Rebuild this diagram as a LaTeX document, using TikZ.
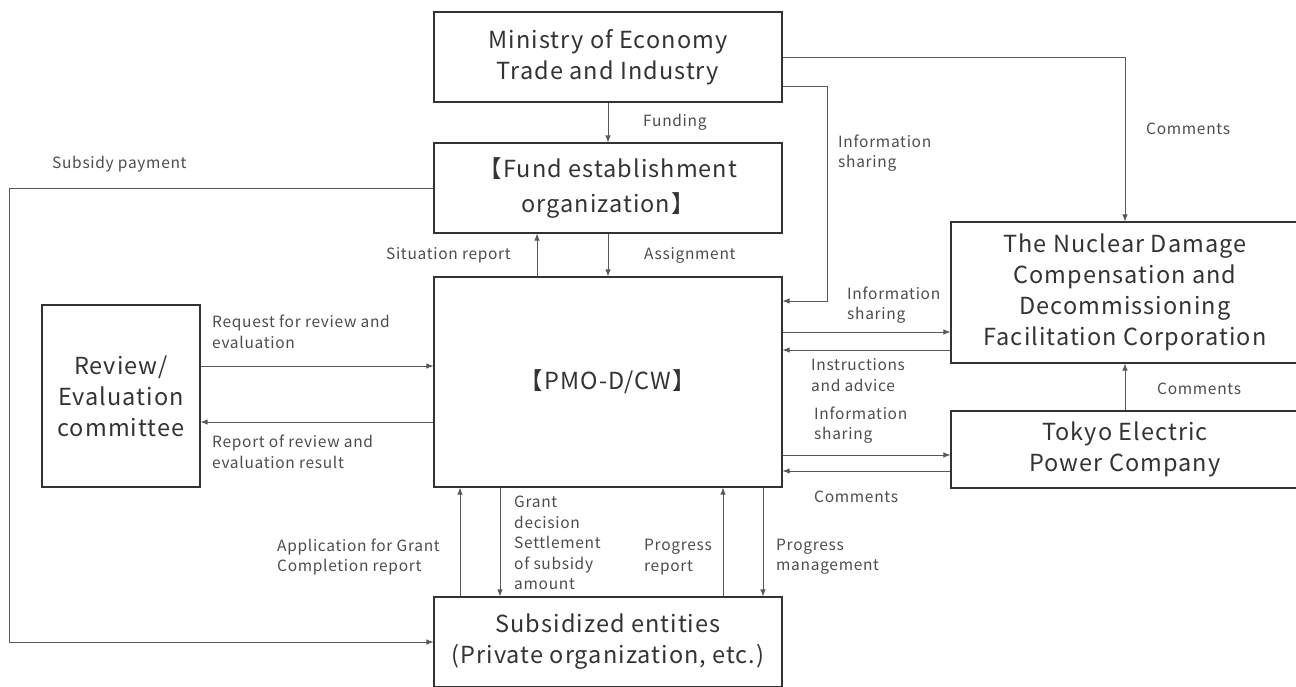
\documentclass[tikz,border=0pt]{standalone}
\usepackage{fontspec}
\setmainfont[LetterSpace=4.5]{Noto Sans CJK JP}
\usetikzlibrary{arrows.meta}

\begin{document}
\begin{tikzpicture}[x=1pt,y=-1pt,
  box/.style={draw=black!80,line width=1.2pt,minimum width=348pt,inner sep=0pt,align=center,text=black!80,font=\fontsize{23.5}{31}\selectfont},
  lbl/.style={inner sep=0pt,align=left,text=black!70,font=\fontsize{15.5}{20.5}\selectfont},
  arr/.style={draw=black!65,line width=0.8pt,-{Latex[length=7pt,width=5.5pt]}}]
\useasboundingbox (0,0) rectangle (1296,687);

\node[box,minimum height=90pt] (meti) at (608,57) {Ministry of Economy\\Trade and Industry};
\node[box,minimum height=90pt] (fund) at (608,188) {【Fund establishment\\[4pt]organization】};
\node[box,minimum height=210pt] (pmo) at (608,382) {【PMO-D/CW】};
\node[box,minimum height=90pt] (sub) at (608,642) {Subsidized entities\\(Private organization, etc.)};
\node[box,minimum width=158pt,minimum height=182pt] (rev) at (121,396) {Review/\\Evaluation\\committee};
\node[box,minimum height=141pt] (ndf) at (1125,292.5) {The Nuclear Damage\\Compensation and\\Decommissioning\\Facilitation Corporation};
\node[box,minimum height=77pt] (tepco) at (1125,449.5) {Tokyo Electric\\Power Company};

\draw[arr] (meti) -- (fund);
\draw[arr] (fund) -- (pmo);
\draw[arr] ([xshift=-71pt]pmo.north) -- ([xshift=-71pt]fund.south);
\draw[arr] (meti.east) -| (ndf.north);
\draw[arr] ([yshift=-29pt]meti.east) -- ++(45,0) |- ([yshift=81pt]pmo.east);
\draw[arr] ([yshift=50pt]pmo.east) -- ([yshift=-39.5pt]ndf.west);
\draw[arr] ([yshift=-57.5pt]ndf.west) -- ([yshift=32pt]pmo.east);
\draw[arr] ([yshift=-73pt]pmo.east) -- ([yshift=-5.5pt]tepco.west);
\draw[arr] ([yshift=-21.5pt]tepco.west) -- ([yshift=-89pt]pmo.east);
\draw[arr] (tepco) -- (ndf);
\draw[arr] ([yshift=30pt]rev.east) -- ([yshift=16pt]pmo.west);
\draw[arr] ([yshift=-40pt]pmo.west) -- ([yshift=-26pt]rev.east);
\coordinate (pay) at (9,188);
\draw[arr] (fund.west) -- (pay) |- (sub.west);
\draw[arr] ([xshift=-148pt]sub.north) -- ([xshift=-148pt]pmo.south);
\draw[arr] ([xshift=-108pt]pmo.south) -- ([xshift=-108pt]sub.north);
\draw[arr] ([xshift=115pt]sub.north) -- ([xshift=115pt]pmo.south);
\draw[arr] ([xshift=155pt]pmo.south) -- ([xshift=155pt]sub.north);

\node[lbl,anchor=west] (l-fund) at (643,122) {Funding};
\node[lbl,anchor=east] (l-sit) at (511,255) {Situation report};
\node[lbl,anchor=west] (l-assign) at (644,255) {Assignment};
\node[lbl,anchor=west] (l-info1) at (838,153) {Information\\sharing};
\node[lbl,anchor=west] (l-com1) at (1146,129) {Comments};
\node[lbl,anchor=west] (l-info2) at (847,305) {Information\\sharing};
\node[lbl,anchor=west] (l-instr) at (811,375) {Instructions\\and advice};
\node[lbl,anchor=west] (l-com2) at (1157,389) {Comments};
\node[lbl,anchor=west] (l-info3) at (814,425) {Information\\sharing};
\node[lbl,anchor=west] (l-com3) at (814,497) {Comments};
\node[lbl,anchor=west] (l-pay) at (52,164) {Subsidy payment};
\node[lbl,anchor=west] (l-req) at (212,332) {Request for review and\\evaluation};
\node[lbl,anchor=west] (l-rep) at (212,452) {Report of review and\\evaluation result};
\node[lbl,anchor=west] (l-appl) at (277,557) {Application for Grant\\Completion report};
\node[lbl,anchor=west] (l-grant) at (514,543) {Grant\\decision\\Settlement\\of subsidy\\amount};
\node[lbl,anchor=west] (l-prog) at (644,557) {Progress\\report};
\node[lbl,anchor=west] (l-mgmt) at (776,557) {Progress\\management};
\end{tikzpicture}
\end{document}
